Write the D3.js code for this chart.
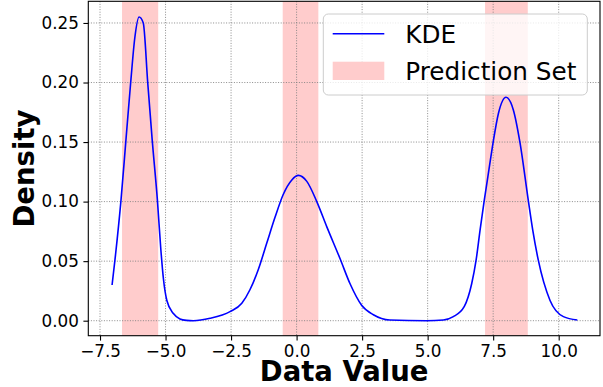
<!DOCTYPE html>
<html>
<head>
<meta charset="utf-8">
<script src="https://cdn.jsdelivr.net/npm/d3@7"></script>
<style>
  body { margin: 0; background: #fff; }
  svg { display: block; font-family: "DejaVu Sans", sans-serif; }
</style>
</head>
<body>
<svg id="chart" width="603" height="387"></svg>
<script>
// KDE curve (x, density)
const kdeX = [-7.04, -6.93, -6.70, -6.51, -6.33, -6.17, -6.01, -5.85, -5.68, -5.51, -5.31, -5.18, -5.08, -4.95, -4.70, -4.45,
  -4.20, -3.94, -3.30, -2.54, -2.09, -1.78, -1.46, -1.14, -0.82, -0.51, -0.19, 0.07, 0.39, 0.77, 1.15, 1.66,
  2.04, 2.48, 2.93, 3.56, 4.96, 5.60, 5.98, 6.40, 6.68, 6.85, 7.00, 7.16, 7.34, 7.50, 7.70, 7.99, 8.27, 8.52,
  8.84, 9.01, 9.22, 9.67, 10.18, 10.71];
const kdeY = [0.030, 0.051, 0.101, 0.152, 0.200, 0.238, 0.255, 0.250, 0.200, 0.152, 0.101, 0.060, 0.035, 0.017, 0.006, 0.0015,
  0.0003, 0.0, 0.002, 0.0076, 0.0146, 0.026, 0.043, 0.065, 0.087, 0.106, 0.118, 0.122, 0.117, 0.100, 0.079, 0.052,
  0.031, 0.013, 0.005, 0.0006, 0.0, 0.0006, 0.0034, 0.012, 0.031, 0.051, 0.076, 0.101, 0.127, 0.150, 0.174, 0.1876, 0.177, 0.150,
  0.101, 0.076, 0.051, 0.017, 0.0034, 0.0006];

// prediction set intervals
const bandStart = [-6.66, -0.53, 7.19];
const bandEnd = [-5.28, 0.83, 8.82];

const xTicks = [-7.5, -5.0, -2.5, 0.0, 2.5, 5.0, 7.5, 10.0];
const yTicks = [0.00, 0.05, 0.10, 0.15, 0.20, 0.25];

const legendLabels = ["KDE", "Prediction Set"];

const margin = { left: 88.3, right: 3, top: 1.3, bottom: 51.3 };
const W = 603, H = 387;

const svg = d3.select("#chart");

const x = d3.scaleLinear().domain([-7.947, 11.576]).range([margin.left, W - margin.right]);
const y = d3.scaleLinear().domain([-0.0126, 0.2682]).range([H - margin.bottom, margin.top]);

// shaded prediction set bands
svg.append("g")
  .selectAll("rect")
  .data(bandStart.map((s, i) => ({ s, e: bandEnd[i] })))
  .join("rect")
  .attr("x", d => x(d.s))
  .attr("width", d => x(d.e) - x(d.s))
  .attr("y", margin.top)
  .attr("height", y.range()[0] - margin.top)
  .attr("fill", "#ffcccc");

// dotted grid on top of the bands
const grid = svg.append("g")
  .attr("stroke", "#7f7f7f")
  .attr("stroke-width", 0.9)
  .attr("stroke-dasharray", "1,1.6");

grid.selectAll("line.vx")
  .data(xTicks)
  .join("line")
  .attr("class", "vx")
  .attr("x1", d => x(d)).attr("x2", d => x(d))
  .attr("y1", margin.top).attr("y2", y.range()[0]);

grid.selectAll("line.hy")
  .data(yTicks)
  .join("line")
  .attr("class", "hy")
  .attr("y1", d => y(d)).attr("y2", d => y(d))
  .attr("x1", margin.left).attr("x2", W - margin.right);

// the KDE line
const line = d3.line()
  .x(d => x(d[0]))
  .y(d => y(d[1]))
  .curve(d3.curveMonotoneX);

svg.append("path")
  .datum(kdeX.map((v, i) => [v, kdeY[i]]))
  .attr("d", line)
  .attr("fill", "none")
  .attr("stroke", "#0000ff")
  .attr("stroke-width", 1.6);

// axes
const xAxis = svg.append("g")
  .attr("transform", `translate(0,${y.range()[0]})`)
  .call(d3.axisBottom(x).tickValues(xTicks).tickFormat(d3.format(".1f")).tickSizeOuter(0).tickSize(4.9).tickPadding(4));

const yAxis = svg.append("g")
  .attr("transform", `translate(${margin.left},0)`)
  .call(d3.axisLeft(y).tickValues(yTicks).tickFormat(d3.format(".2f")).tickSizeOuter(0).tickSize(4.9).tickPadding(4.5));

[xAxis, yAxis].forEach(a => {
  a.select(".domain").remove();
  a.selectAll("line").attr("stroke", "#000").attr("stroke-width", 1.1);
  a.selectAll("text").attr("font-size", 16.8).attr("font-family", "DejaVu Sans").attr("fill", "#000");
});

// frame (spines)
svg.append("rect")
  .attr("x", margin.left)
  .attr("y", margin.top)
  .attr("width", W - margin.right - margin.left)
  .attr("height", y.range()[0] - margin.top)
  .attr("fill", "none")
  .attr("stroke", "#000")
  .attr("stroke-width", 1.1);

// axis titles
svg.append("text")
  .attr("x", (margin.left + W - margin.right) / 2)
  .attr("y", 381)
  .attr("text-anchor", "middle")
  .attr("font-size", 27.5)
  .attr("font-weight", "bold")
  .text("Data Value");

svg.append("text")
  .attr("transform", `translate(33.5,${(margin.top + y.range()[0]) / 2}) rotate(-90)`)
  .attr("text-anchor", "middle")
  .attr("font-size", 27.5)
  .attr("font-weight", "bold")
  .text("Density");

// legend
const lg = svg.append("g");
lg.append("rect")
  .attr("x", 323.3).attr("y", 14)
  .attr("width", 264).attr("height", 81)
  .attr("rx", 5)
  .attr("fill", "#fff").attr("fill-opacity", 0.8)
  .attr("stroke", "#cccccc").attr("stroke-width", 1);

lg.append("line")
  .attr("x1", 332.7).attr("x2", 384.3)
  .attr("y1", 33.7).attr("y2", 33.7)
  .attr("stroke", "#0000ff").attr("stroke-width", 1.6);

lg.append("rect")
  .attr("x", 332.7).attr("y", 61.7)
  .attr("width", 51.6).attr("height", 18.3)
  .attr("fill", "#ffcccc");

lg.selectAll("text")
  .data(legendLabels)
  .join("text")
  .attr("x", 405.3)
  .attr("y", (d, i) => i === 0 ? 43.3 : 80)
  .attr("font-size", 24.7)
  .text(d => d);
</script>
</body>
</html>
